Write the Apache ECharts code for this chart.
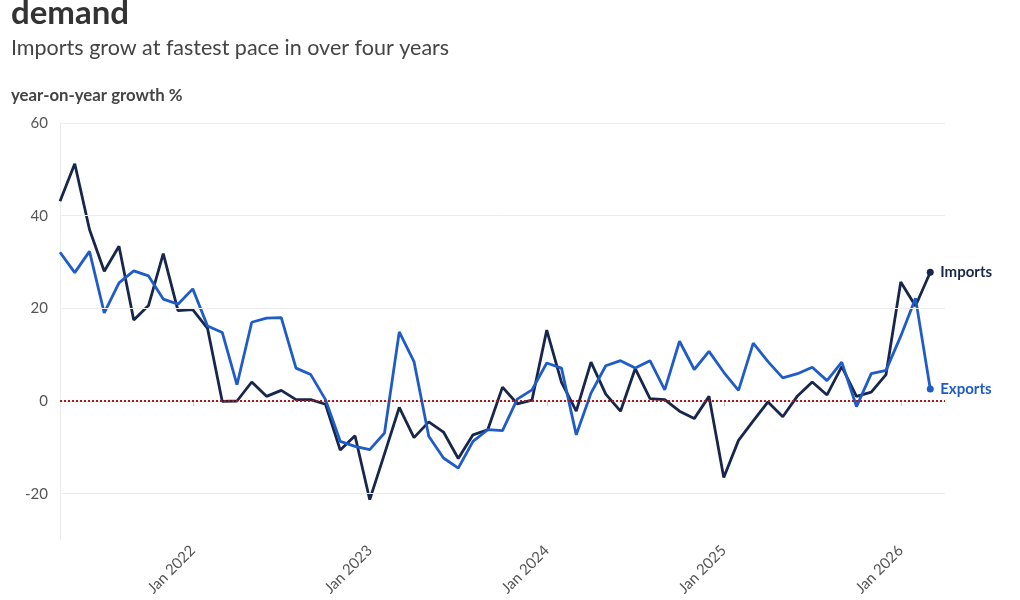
<!DOCTYPE html>
<html>
<head>
<meta charset="utf-8">
<script src="https://cdn.jsdelivr.net/npm/echarts@6/dist/echarts.min.js"></script>
<style>
html,body{margin:0;padding:0;background:#fff;}
#chart{width:1020px;height:600px;}
</style>
</head>
<body>
<div id="chart"></div>
<script>
const titleText = "demand";
const subtitleText = "Imports grow at fastest pace in over four years";
const unitText = "year-on-year growth %";

const months = [
"2021-04","2021-05","2021-06","2021-07","2021-08","2021-09","2021-10","2021-11","2021-12",
"2022-01","2022-02","2022-03","2022-04","2022-05","2022-06","2022-07","2022-08","2022-09","2022-10","2022-11","2022-12",
"2023-01","2023-02","2023-03","2023-04","2023-05","2023-06","2023-07","2023-08","2023-09","2023-10","2023-11","2023-12",
"2024-01","2024-02","2024-03","2024-04","2024-05","2024-06","2024-07","2024-08","2024-09","2024-10","2024-11","2024-12",
"2025-01","2025-02","2025-03","2025-04","2025-05","2025-06","2025-07","2025-08","2025-09","2025-10","2025-11","2025-12",
"2026-01","2026-02","2026-03","2026-04"
];

const imports = [
43.1,51.2,37.0,28.0,33.4,17.5,20.6,31.8,19.5,
19.7,15.7,-0.1,0.0,4.1,1.0,2.3,0.3,0.3,-0.7,-10.6,-7.5,
-21.3,-11.4,-1.4,-7.9,-4.5,-6.7,-12.4,-7.3,-6.2,3.0,-0.6,0.2,
15.3,4.0,-2.2,8.4,1.5,-2.2,7.0,0.5,0.3,-2.2,-3.8,1.0,
-16.5,-8.5,-4.3,-0.2,-3.4,1.1,4.1,1.3,7.4,1.0,1.9,5.7,
25.7,20.5,27.8
];

const exports_ = [
32.1,27.7,32.3,19.0,25.5,28.1,27.0,22.0,20.9,
24.2,16.2,14.8,3.5,17.0,17.9,18.0,7.1,5.7,0.3,-8.7,-9.8,
-10.5,-6.9,14.9,8.5,-7.6,-12.3,-14.5,-8.7,-6.2,-6.4,0.4,2.4,
8.2,7.1,-7.3,1.7,7.6,8.7,7.1,8.7,2.4,12.9,6.8,10.7,
6.2,2.3,12.5,8.5,5.0,5.9,7.3,4.4,8.4,-1.2,5.9,6.6,
14.0,22.2,2.6
];

const yGridValues = [60, 40, 20, -20];

const FONT = "Lato";
const navy = "#17264a";
const blue = "#1f5cc8";

function withEndDot(arr, color) {
  return arr.map((v, i) => i === arr.length - 1
    ? { value: v, symbol: 'circle', symbolSize: 7, itemStyle: { color: color } }
    : { value: v, symbol: 'none' });
}

const isJan = (v) => /-01$/.test(v);

const chart = echarts.init(document.getElementById('chart'), null, { renderer: 'canvas' });
chart.setOption({
  animation: false,
  textStyle: { fontFamily: FONT },
  graphic: [
    { type: 'text', left: 11, top: -3, style: { text: titleText, font: 'bold 33px ' + FONT, fill: '#333' } },
    { type: 'text', left: 11, top: 37, style: { text: subtitleText, font: '21.5px ' + FONT, fill: '#444' } },
    { type: 'text', left: 11, top: 87, style: { text: unitText, font: 'bold 16.8px ' + FONT, fill: '#444' } }
  ],
  grid: { left: 60, right: 75, top: 123, bottom: 60, containLabel: false },
  xAxis: {
    type: 'category',
    data: months,
    boundaryGap: false,
    axisLine: { show: true, lineStyle: { color: '#e2e2e2', width: 1 } },
    axisTick: { show: true, interval: (i, v) => isJan(v), length: 5, lineStyle: { color: '#cfcfcf' } },
    axisLabel: {
      interval: (i, v) => isJan(v),
      rotate: 45,
      margin: 8,
      fontSize: 15,
      color: '#555',
      fontFamily: FONT,
      formatter: (v) => 'Jan ' + v.slice(0, 4)
    },
    splitLine: { show: false }
  },
  yAxis: {
    type: 'value',
    min: -30,
    max: 60,
    interval: 10,
    axisLine: { show: true, lineStyle: { color: '#ececec' } },
    axisTick: { show: false },
    splitLine: { show: false },
    axisLabel: {
      fontSize: 15,
      color: '#555',
      margin: 12,
      fontFamily: FONT,
      formatter: (v) => (v % 20 === 0 ? String(v) : '')
    }
  },
  series: [
    {
      name: 'Grid',
      type: 'line',
      data: [],
      silent: true,
      markLine: {
        silent: true,
        symbol: 'none',
        label: { show: false },
        lineStyle: { color: '#ececec', type: 'solid', width: 1 },
        data: yGridValues.map(v => ({ yAxis: v }))
      }
    },
    {
      name: 'Imports',
      type: 'line',
      data: withEndDot(imports, navy),
      showSymbol: true,
      showAllSymbol: true,
      lineStyle: { color: navy, width: 2.8 },
      itemStyle: { color: navy },
      endLabel: {
        show: true,
        formatter: '{a}',
        distance: 10,
        color: navy,
        fontSize: 15,
        fontWeight: 'bold',
        fontFamily: FONT
      },
      markLine: {
        silent: true,
        symbol: 'none',
        label: { show: false },
        lineStyle: { color: '#a61c1c', type: [2, 2], width: 2 },
        data: [{ yAxis: 0 }]
      },
      z: 3
    },
    {
      name: 'Exports',
      type: 'line',
      data: withEndDot(exports_, blue),
      showSymbol: true,
      showAllSymbol: true,
      lineStyle: { color: blue, width: 2.8 },
      itemStyle: { color: blue },
      endLabel: {
        show: true,
        formatter: '{a}',
        distance: 10,
        color: blue,
        fontSize: 15,
        fontWeight: 'bold',
        fontFamily: FONT
      },
      z: 4
    }
  ]
});
</script>
</body>
</html>
